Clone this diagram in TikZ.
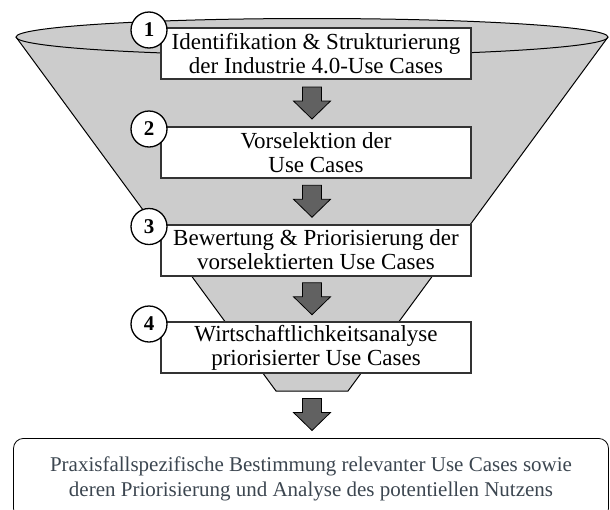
\documentclass[tikz,border=0pt]{standalone}
\usepackage{fontspec}
\setmainfont{Liberation Serif}
\usetikzlibrary{calc}

\definecolor{restext}{HTML}{3C4650}
\tikzset{
    stepbox/.style={draw=black!80, line width=2pt, fill=white, minimum width=310pt, minimum height=51pt,
        inner sep=0pt, align=center, font=\fontsize{23}{24}\selectfont},
    numcirc/.style={circle, draw, line width=1.3pt, fill=white, minimum size=36pt, inner sep=0pt,
        font=\fontsize{21}{21}\selectfont\bfseries},
    blockarr/.style={draw=black, line width=0.8pt, fill=black!62},
}
\newcommand{\blockarrow}[2]{%
    \coordinate (m) at ($(#1)!0.5!(#2)$);
    \coordinate (m) at (fb |- m);
    \draw[blockarr] ($(m)+(-9.5,-16)$) -- ($(m)+(9.5,-16)$) -- ($(m)+(9.5,-2)$) -- ($(m)+(18.5,-2)$)
        -- ($(m)+(0,16)$) -- ($(m)+(-18.5,-2)$) -- ($(m)+(-9.5,-2)$) -- cycle;}

\begin{document}
\begin{tikzpicture}[x=1pt, y=-1pt]
    \useasboundingbox (0,0) rectangle (610,509);
    \clip (0,0) rectangle (610,509);
    \coordinate (fb) at (312,391);
    \fill[gray!40] (312,37) ellipse[x radius=296, y radius=18.5];
    \fill[gray!40] (16,37) -- (276,391) -- (348,391) -- (608,37) -- cycle;
    \draw[line width=1pt] (16,37) -- (276,391) -- (348,391) -- (608,37);
    \draw[line width=1pt] (312,37) ellipse[x radius=296, y radius=18.5];

    \node[stepbox] (s1) at (316,53.5) {Identifikation \& Strukturierung\\der Industrie 4.0-Use Cases};
    \node[stepbox] (s2) at (316,152.5) {Vorselektion der\\Use Cases};
    \node[stepbox] (s3) at (316,250) {Bewertung \& Priorisierung der\\vorselektierten Use Cases};
    \node[stepbox] (s4) at (316,347.5) {Wirtschaftlichkeitsanalyse\\priorisierter Use Cases};
    \foreach \i in {1,...,4}
        \node[numcirc] (n\i) at ($(s\i.north west)+(-11,3)$) {\i};

    \node[draw, rounded corners=10pt, line width=0.8pt, minimum width=595pt, minimum height=80pt,
        anchor=north, align=center, text=restext, font=\fontsize{21}{25}\selectfont] (res) at (311,438)
        {Praxisfallspezifische Bestimmung relevanter Use Cases sowie\\deren Priorisierung und Analyse des potentiellen Nutzens};

    \blockarrow{s1.south}{s2.north}
    \blockarrow{s2.south}{s3.north}
    \blockarrow{s3.south}{s4.north}
    \blockarrow{fb}{res.north}
\end{tikzpicture}
\end{document}
